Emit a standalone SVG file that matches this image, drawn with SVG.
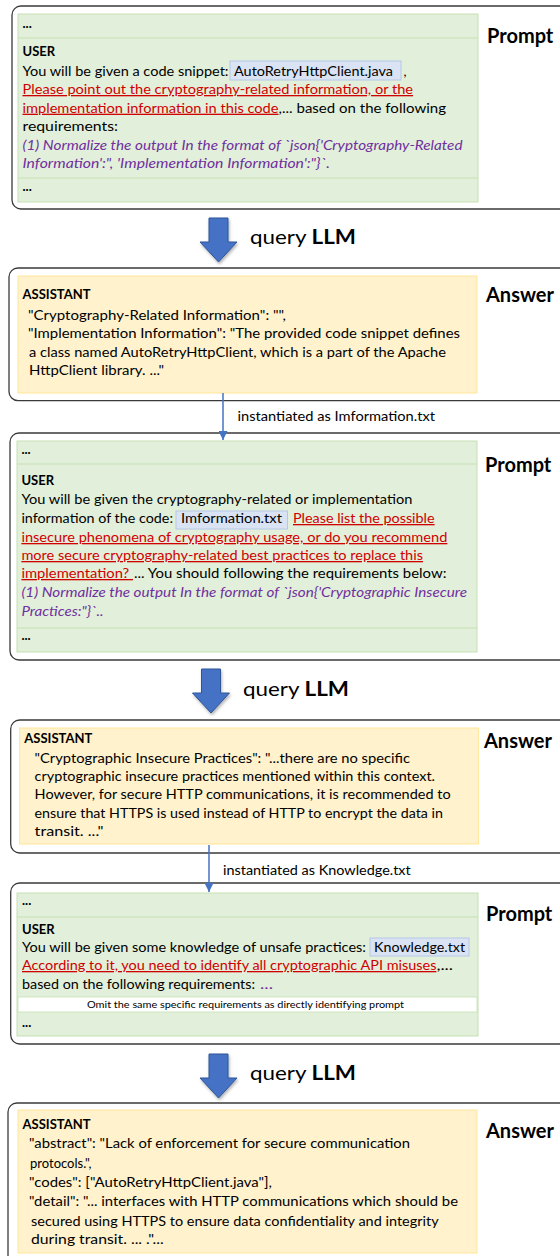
<svg xmlns="http://www.w3.org/2000/svg" xmlns:xlink="http://www.w3.org/1999/xlink" width="560" height="1256" viewBox="0 0 560 1256">
<style>
.outer{fill:#fff;stroke:#3a3a3a;stroke-width:1.3}
.green{fill:#e2efda;stroke:#c5e0b4;stroke-width:1}
.sep{stroke:#c5e0b4;stroke-width:1}
.yellow{fill:#fff2cc;stroke:#ffe699;stroke-width:1}
.code{fill:#dae3f3;stroke:#b4c7e7;stroke-width:1}
.band{fill:#fff;stroke:#c5e0b4;stroke-width:0.8}
.t{font-family:Lato,'Liberation Sans',sans-serif;font-size:13px;fill:#000}
.b{font-weight:bold}
.red{fill:#d00000;text-decoration:underline}
.pur{fill:#7030a0;font-style:italic}
.lbl{font-family:Lato,'Liberation Sans',sans-serif;font-size:20px;font-weight:bold;fill:#000}
.q{font-family:Lato,'Liberation Sans',sans-serif;font-size:20px;fill:#000}
.small{font-family:Lato,'Liberation Sans',sans-serif;font-size:12.5px;fill:#000}
.tiny{font-family:Lato,'Liberation Sans',sans-serif;font-size:9.5px;fill:#000}
.blk{fill:#4472c4;stroke:#2f5597;stroke-width:1}
.conn{stroke:#4472c4;stroke-width:1.5;fill:none}
</style>
<defs>
<filter id="sh" x="-40%" y="-20%" width="180%" height="150%">
<feDropShadow dx="1" dy="2" stdDeviation="1.5" flood-color="#000" flood-opacity="0.3"/>
</filter>
<path id="bigArrow" d="M-9.5,0 H9.5 V24 H18.5 L0,44 L-18.5,24 H-9.5 Z"/>
<marker id="ah" viewBox="0 0 10 10" refX="10" refY="5" markerWidth="9" markerHeight="9" markerUnits="userSpaceOnUse" orient="auto">
<path d="M0,0 L10,5 L0,10 Z" fill="#4472c4"/>
</marker>
</defs>

<g id="prompt1">
<rect class="outer" x="12" y="6" width="570" height="203" rx="9"/>
<rect class="green" x="18" y="14" width="460" height="188"/>
<line class="sep" x1="18" y1="38" x2="478" y2="38"/>
<line class="sep" x1="18" y1="178" x2="478" y2="178"/>
<text class="t b" x="22.5" y="28">...</text>
<text class="t b" x="22.5" y="56">USER</text>
<text class="t" x="22.5" y="75.5" textLength="206" lengthAdjust="spacingAndGlyphs">You will be given a code snippet:</text>
<rect class="code" x="230" y="61" width="171" height="19"/>
<text class="t" x="234" y="75.5" textLength="159" lengthAdjust="spacingAndGlyphs">AutoRetryHttpClient.java</text>
<text class="t" x="403.6" y="75.5">,</text>
<text class="t red" x="22.5" y="94" textLength="390.5" lengthAdjust="spacingAndGlyphs">Please point out the cryptography-related information, or the</text>
<text class="t red" x="22.5" y="112.7" textLength="256" lengthAdjust="spacingAndGlyphs">implementation information in this code</text>
<text class="t" x="278.6" y="112.7" textLength="167.4" lengthAdjust="spacingAndGlyphs">,...  based on the following</text>
<text class="t" x="22.5" y="131" textLength="95.5" lengthAdjust="spacingAndGlyphs">requirements:</text>
<text class="t pur" x="22.5" y="150" textLength="440" lengthAdjust="spacingAndGlyphs">(1) Normalize the output In the format of `json{'Cryptography-Related</text>
<text class="t pur" x="22.5" y="168" textLength="307.5" lengthAdjust="spacingAndGlyphs">Information':", 'Implementation Information':"}`.</text>
<text class="t b" x="22.5" y="191">...</text>
<text class="lbl" x="487" y="43">Prompt</text>
</g>

<g id="answer1">
<rect class="outer" x="9" y="268" width="570" height="132.7" rx="9"/>
<rect class="yellow" x="18" y="276" width="459" height="117"/>
<text class="t b" x="22.5" y="299">ASSISTANT</text>
<text class="t" x="28" y="320" textLength="258" lengthAdjust="spacingAndGlyphs">"Cryptography-Related Information": "",</text>
<text class="t" x="28" y="338" textLength="432" lengthAdjust="spacingAndGlyphs">"Implementation Information": "The provided code snippet defines</text>
<text class="t" x="29" y="357" textLength="417" lengthAdjust="spacingAndGlyphs">a class named AutoRetryHttpClient, which is a part of the Apache</text>
<text class="t" x="29" y="375" textLength="135" lengthAdjust="spacingAndGlyphs">HttpClient library. ..."</text>
<text class="lbl" x="486" y="302">Answer</text>
</g>

<g id="prompt2">
<rect class="outer" x="10" y="433" width="570" height="227" rx="9"/>
<rect class="green" x="17" y="441" width="460" height="211"/>
<line class="sep" x1="17" y1="464" x2="477" y2="464"/>
<line class="sep" x1="17" y1="628" x2="477" y2="628"/>
<text class="t b" x="21.4" y="454">...</text>
<text class="t b" x="21.4" y="485">USER</text>
<text class="t" x="21.4" y="504" textLength="391" lengthAdjust="spacingAndGlyphs">You will be given the cryptography-related or implementation</text>
<text class="t" x="21.4" y="523" textLength="151.6" lengthAdjust="spacingAndGlyphs">information of the code:</text>
<rect class="code" x="176" y="511" width="111.5" height="18"/>
<text class="t" x="181" y="523" textLength="101" lengthAdjust="spacingAndGlyphs">Imformation.txt</text>
<text class="t red" x="293" y="523" textLength="141.6" lengthAdjust="spacingAndGlyphs">Please list the possible</text>
<text class="t red" x="21.4" y="542" textLength="426" lengthAdjust="spacingAndGlyphs">insecure phenomena of cryptography usage, or do you recommend</text>
<text class="t red" x="21.4" y="560" textLength="401.6" lengthAdjust="spacingAndGlyphs">more secure cryptography-related best practices to replace this</text>
<text class="t red" x="21.4" y="578" textLength="111.6" lengthAdjust="spacingAndGlyphs" xml:space="preserve">implementation? </text>
<text class="t" x="134" y="578" textLength="312.4" lengthAdjust="spacingAndGlyphs">...  You should following the requirements below:</text>
<text class="t pur" x="21.4" y="597" textLength="445.6" lengthAdjust="spacingAndGlyphs">(1) Normalize the output In the format of `json{'Cryptographic Insecure</text>
<text class="t pur" x="21.4" y="616" textLength="82.2" lengthAdjust="spacingAndGlyphs">Practices:"}`..</text>
<text class="t b" x="21.4" y="640">...</text>
<text class="lbl" x="485" y="472">Prompt</text>
</g>

<g id="answer2">
<rect class="outer" x="10.7" y="720" width="570" height="133" rx="9"/>
<rect class="yellow" x="19.6" y="728" width="459" height="116"/>
<text class="t b" x="24.3" y="743">ASSISTANT</text>
<text class="t" x="34.6" y="763" textLength="375.4" lengthAdjust="spacingAndGlyphs">"Cryptographic Insecure Practices": "...there are no specific</text>
<text class="t" x="34.6" y="781" textLength="400.4" lengthAdjust="spacingAndGlyphs">cryptographic insecure practices mentioned within this context.</text>
<text class="t" x="34.6" y="799" textLength="416" lengthAdjust="spacingAndGlyphs">However, for secure HTTP communications, it is recommended to</text>
<text class="t" x="34.6" y="818" textLength="408.3" lengthAdjust="spacingAndGlyphs">ensure that HTTPS is used instead of HTTP to encrypt the data in</text>
<text class="t" x="34.6" y="836" textLength="69" lengthAdjust="spacingAndGlyphs">transit. ..."</text>
<text class="lbl" x="484" y="748">Answer</text>
</g>

<g id="prompt3">
<rect class="outer" x="10.7" y="883" width="570" height="161" rx="9"/>
<rect class="green" x="17" y="893" width="461" height="143"/>
<line class="sep" x1="17" y1="917" x2="478" y2="917"/>
<rect class="band" x="18" y="997" width="459" height="15"/>
<text class="t b" x="22" y="905">...</text>
<text class="t b" x="22" y="934">USER</text>
<text class="t" x="22" y="952" textLength="344" lengthAdjust="spacingAndGlyphs">You will be given some knowledge of unsafe practices:</text>
<rect class="code" x="370" y="938" width="99" height="18"/>
<text class="t" x="374" y="952" textLength="91" lengthAdjust="spacingAndGlyphs">Knowledge.txt</text>
<text class="t red" x="22" y="970" textLength="414.4" lengthAdjust="spacingAndGlyphs">According to it, you need to identify all cryptographic API misuses</text>
<text class="t" x="436.4" y="970" textLength="16.6" lengthAdjust="spacingAndGlyphs">,...</text>
<text class="t" x="22" y="989" textLength="233" lengthAdjust="spacingAndGlyphs">based on the following requirements:</text>
<text class="t" x="260" y="989" textLength="13" lengthAdjust="spacingAndGlyphs" style="fill:#7030a0">...</text>
<text class="tiny" x="245.5" y="1008" text-anchor="middle" textLength="317" lengthAdjust="spacingAndGlyphs">Omit the same specific requirements as directly identifying prompt</text>
<text class="t b" x="22" y="1027">...</text>
<text class="lbl" x="486" y="921">Prompt</text>
</g>

<g id="answer3">
<rect class="outer" x="8" y="1103" width="570" height="170" rx="9"/>
<rect class="yellow" x="18" y="1110" width="459" height="143"/>
<text class="t b" x="22.5" y="1129">ASSISTANT</text>
<text class="t" x="29" y="1148" textLength="381" lengthAdjust="spacingAndGlyphs">"abstract": "Lack of enforcement for secure communication</text>
<text class="t" x="30" y="1168">protocols.",</text>
<text class="t" x="29" y="1187" textLength="243" lengthAdjust="spacingAndGlyphs">"codes": ["AutoRetryHttpClient.java"],</text>
<text class="t" x="29" y="1206" textLength="429" lengthAdjust="spacingAndGlyphs">"detail": "... interfaces with HTTP communications which should be</text>
<text class="t" x="31" y="1226" textLength="407.6" lengthAdjust="spacingAndGlyphs">secured using HTTPS to ensure data confidentiality and integrity</text>
<text class="t" x="31" y="1244" textLength="132.6" lengthAdjust="spacingAndGlyphs">during transit. ... ."...</text>
<text class="lbl" x="486" y="1138">Answer</text>
</g>

<g id="connectors">
<use xlink:href="#bigArrow" href="#bigArrow" class="blk" x="218.5" y="218" filter="url(#sh)"/>
<text class="q" x="250" y="243.5" textLength="106" lengthAdjust="spacingAndGlyphs">query <tspan font-weight="bold">LLM</tspan></text>
<line class="conn" x1="223" y1="393" x2="223" y2="440" marker-end="url(#ah)"/>
<text class="small" x="237.5" y="421" textLength="197.5" lengthAdjust="spacingAndGlyphs">instantiated as Imformation.txt</text>
<use xlink:href="#bigArrow" href="#bigArrow" class="blk" x="211" y="669" filter="url(#sh)"/>
<text class="q" x="243" y="695.5" textLength="106" lengthAdjust="spacingAndGlyphs">query <tspan font-weight="bold">LLM</tspan></text>
<line class="conn" x1="209" y1="845" x2="209" y2="892" marker-end="url(#ah)"/>
<text class="small" x="223" y="875" textLength="187.7" lengthAdjust="spacingAndGlyphs">instantiated as Knowledge.txt</text>
<use xlink:href="#bigArrow" href="#bigArrow" class="blk" x="218.5" y="1054" filter="url(#sh)"/>
<text class="q" x="250" y="1079.5" textLength="106" lengthAdjust="spacingAndGlyphs">query <tspan font-weight="bold">LLM</tspan></text>
</g>
</svg>
